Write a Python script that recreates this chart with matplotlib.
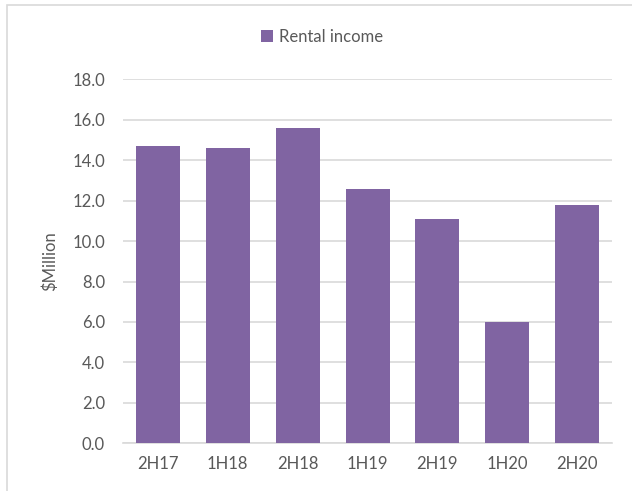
import matplotlib
matplotlib.use('Agg')
import matplotlib.pyplot as plt
from matplotlib.patches import Rectangle

plt.rcParams.update({'font.size': 12, 'font.family': ['Lato', 'DejaVu Sans']})

periods = ['2H17', '1H18', '2H18', '1H19', '2H19', '1H20', '2H20']
rental_income = [14.7, 14.6, 15.6, 12.6, 11.1, 6.0, 11.8]

text_col = '#595959'
grid_col = '#D9D9D9'
bar_col = '#8064A2'

fig = plt.figure(figsize=(6.32, 4.91), dpi=100)
ax = fig.add_axes([0.1946, 0.0971, 0.7738, 0.7414])

# chart border (only left and top show in the crop)
fig.patches.append(Rectangle((7 / 632, -0.2), 1.2, 1.2 - 5 / 491,
                             transform=fig.transFigure, fill=False,
                             edgecolor=grid_col, linewidth=1.2))

x = range(len(periods))
bars = ax.bar(x, rental_income, width=0.63, color=bar_col, label='Rental income', zorder=3)

ax.set_xlim(-0.5, len(periods) - 0.5)
ax.set_ylim(0, 18)
ax.set_yticks([i * 2 for i in range(10)])
ax.set_yticklabels(['%.1f' % (i * 2) for i in range(10)])
ax.set_xticks(list(x))
ax.set_xticklabels(periods)
ax.yaxis.grid(True, color=grid_col, linewidth=1.2, zorder=0)
ax.tick_params(length=0, colors=text_col, labelsize=12)
ax.tick_params(axis='y', pad=13)
ax.tick_params(axis='x', pad=9)
for s in ['top', 'right', 'left']:
    ax.spines[s].set_visible(False)
ax.spines['bottom'].set_color(grid_col)
ax.spines['bottom'].set_linewidth(1.2)

ax.set_ylabel('$Million', color=text_col, fontsize=12, labelpad=10)

fig.legend(handles=[bars], labels=['Rental income'], loc='center',
           bbox_to_anchor=(0.51, 0.925), frameon=False, handlelength=0.7,
           handleheight=0.7, handletextpad=0.4, labelcolor=text_col, fontsize=12)

plt.savefig('out.png', dpi=100)
